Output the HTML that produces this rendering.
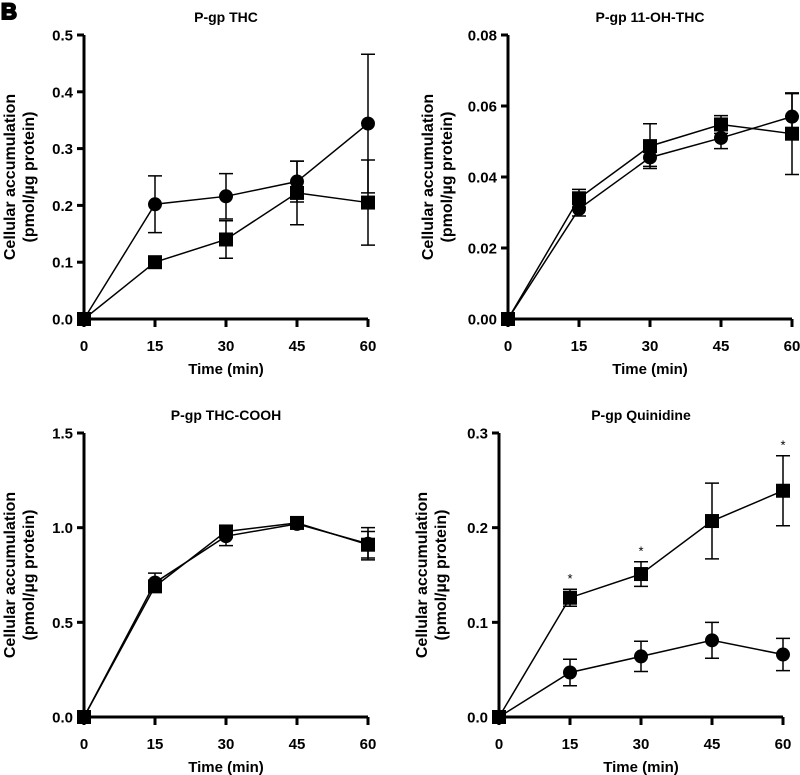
<!DOCTYPE html>
<html><head><meta charset="utf-8"><style>
body{margin:0;background:#fff}
svg{display:block;font-family:"Liberation Sans",Arial,sans-serif;font-weight:bold}
</style></head><body>
<svg id="fig" width="800" height="775" viewBox="0 0 800 775">
<text x="1" y="19" font-size="22" fill="#000" stroke="#000" stroke-width="2">B</text>
</svg>
<script>
const times=[0,15,30,45,60];
const thcCircle=[0,0.202,0.216,0.242,0.344];
const thcCircleErr=[0,0.05,0.04,0.036,0.122];
const thcSquare=[0,0.1,0.14,0.222,0.205];
const thcSquareErr=[0,0.004,0.033,0.056,0.075];
const ohCircle=[0,0.031,0.0455,0.051,0.057];
const ohCircleErr=[0,0.002,0.0025,0.003,0.0065];
const ohSquare=[0,0.034,0.0487,0.0548,0.0522];
const ohSquareErr=[0,0.0025,0.0063,0.0025,0.0115];
const coohCircle=[0,0.71,0.955,1.02,0.915];
const coohCircleErr=[0,0.05,0.05,0.015,0.085];
const coohSquare=[0,0.69,0.98,1.025,0.91];
const coohSquareErr=[0,0.02,0.02,0.01,0.07];
const quinCircle=[0,0.047,0.064,0.081,0.066];
const quinCircleErr=[0,0.014,0.016,0.019,0.017];
const quinSquare=[0,0.126,0.151,0.207,0.239];
const quinSquareErr=[0,0.009,0.013,0.04,0.037];
const quinStars=[false,true,true,false,true];
const xTicks=[0,15,30,45,60];
const thcTicks=["0.0","0.1","0.2","0.3","0.4","0.5"];
const ohTicks=["0.00","0.02","0.04","0.06","0.08"];
const coohTicks=["0.0","0.5","1.0","1.5"];
const quinTicks=["0.0","0.1","0.2","0.3"];

const NS="http://www.w3.org/2000/svg";
const svg=document.getElementById('fig');
function mk(tag,attrs,parent){const e=document.createElementNS(NS,tag);for(const k in attrs)e.setAttribute(k,attrs[k]);(parent||svg).appendChild(e);return e;}

function panel(cfg){
  const g=mk('g',{});
  
  
  const ymax=parseFloat(cfg.ticks[cfg.ticks.length-1]);
  const sx=v=>cfg.x0+(v/60)*(cfg.x1-cfg.x0);
  const sy=v=>cfg.yb-(v/ymax)*(cfg.yb-cfg.yt);
  const t=mk('text',{x:(cfg.x0+cfg.x1)/2,y:cfg.yt-13,'font-size':14,'text-anchor':'middle'},g);
  t.textContent=cfg.title;
  
  
  cfg.series.forEach(s=>{
    const sg=mk('g',{},g);
    
    
    const pts=times.map((tm,i)=>sx(tm)+','+sy(s.v[i])).join(' ');
    mk('polyline',{points:pts,fill:'none',stroke:'#000','stroke-width':1.5},sg);
    times.forEach((tm,i)=>{
      const x=sx(tm),y=sy(s.v[i]);
      if(s.e[i]>0){
        const y1=sy(s.v[i]+s.e[i]),y2=sy(s.v[i]-s.e[i]);
        const eb=mk('path',{d:`M${x},${y1}V${y2}M${x-7},${y1}H${x+7}M${x-7},${y2}H${x+7}`,stroke:'#000','stroke-width':1.5,fill:'none'},sg);
        
        
      }
      let m;
      if(s.shape==='circle')m=mk('circle',{cx:x,cy:y,r:7,fill:'#000'},sg);
      else m=mk('rect',{x:x-7,y:y-7,width:14,height:14,fill:'#000'},sg);
      
      
      if(s.stars&&s.stars[i]){
        const st=mk('text',{x:x,y:sy(s.v[i]+s.e[i])-6,'font-size':13,'font-weight':'normal','text-anchor':'middle'},sg);
        st.textContent='*';
        
        
      }
    });
  });
  const ax=mk('path',{d:`M${cfg.x0},${cfg.yt}V${cfg.yb}H${cfg.x1}`,fill:'none',stroke:'#000','stroke-width':3},g);
  
  
  cfg.ticks.forEach(lbl=>{
    const y=sy(parseFloat(lbl));
    mk('line',{x1:cfg.x0-7,x2:cfg.x0,y1:y,y2:y,stroke:'#000','stroke-width':3},g);
    const tl=mk('text',{x:cfg.x0-11,y:y+5.5,'font-size':15,'text-anchor':'end'},g);
    tl.textContent=lbl;
    
    
  });
  xTicks.forEach(v=>{
    const x=sx(v);
    mk('line',{x1:x,x2:x,y1:cfg.yb,y2:cfg.yb+8,stroke:'#000','stroke-width':3},g);
    const tl=mk('text',{x:x,y:cfg.yb+32,'font-size':15,'text-anchor':'middle'},g);
    tl.textContent=v;
    
    
  });
  const xl=mk('text',{x:(cfg.x0+cfg.x1)/2,y:cfg.yb+55,'font-size':15,'text-anchor':'middle'},g);
  xl.textContent='Time (min)';
  
  
  const cy=(cfg.yt+cfg.yb)/2;
  const yl=mk('text',{transform:`translate(${cfg.lx},${cy}) rotate(-90)`,'font-size':16,'text-anchor':'middle'},g);
  const a=mk('tspan',{x:0,y:0},yl);a.textContent='Cellular accumulation';
  const b=mk('tspan',{x:0,y:19},yl);b.textContent='(pmol/µg protein)';
  
  
}

panel({name:'panel-thc',title:'P-gp THC',x0:84,x1:368,yt:35,yb:319,lx:15,ticks:thcTicks,
  series:[{name:'series-circle',shape:'circle',v:thcCircle,e:thcCircleErr},{name:'series-square',shape:'square',v:thcSquare,e:thcSquareErr}]});
panel({name:'panel-11-oh-thc',title:'P-gp 11-OH-THC',x0:508,x1:792,yt:35,yb:319,lx:433,ticks:ohTicks,
  series:[{name:'series-circle',shape:'circle',v:ohCircle,e:ohCircleErr},{name:'series-square',shape:'square',v:ohSquare,e:ohSquareErr}]});
panel({name:'panel-thc-cooh',title:'P-gp THC-COOH',x0:84,x1:368,yt:433,yb:717,lx:15,ticks:coohTicks,
  series:[{name:'series-circle',shape:'circle',v:coohCircle,e:coohCircleErr},{name:'series-square',shape:'square',v:coohSquare,e:coohSquareErr}]});
panel({name:'panel-quinidine',title:'P-gp Quinidine',x0:499,x1:783,yt:433,yb:717,lx:427,ticks:quinTicks,
  series:[{name:'series-circle',shape:'circle',v:quinCircle,e:quinCircleErr},{name:'series-square',shape:'square',v:quinSquare,e:quinSquareErr,stars:quinStars}]});
</script>
</body></html>
